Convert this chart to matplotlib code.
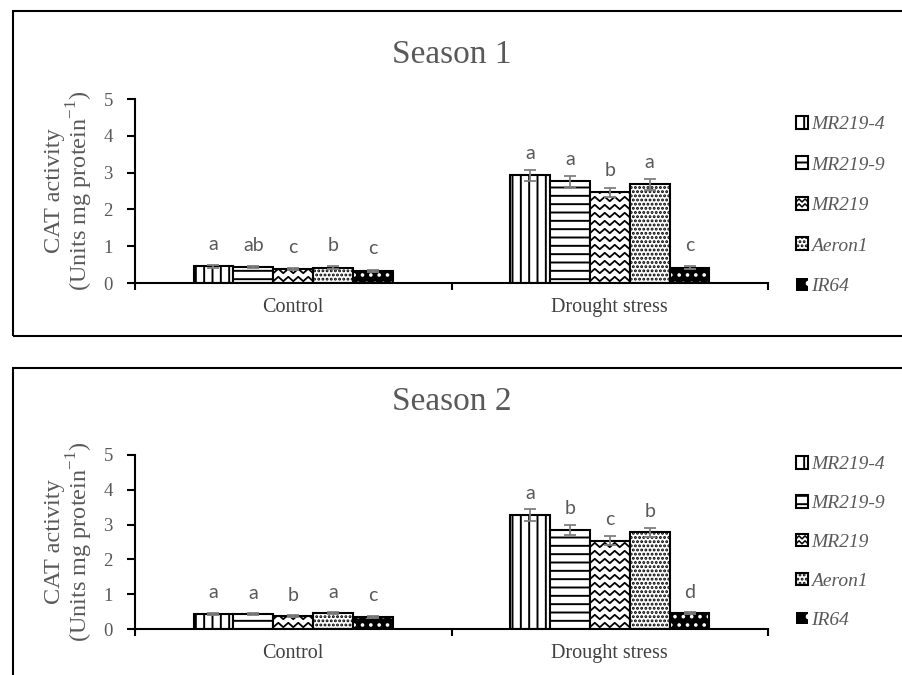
"""
Atividade de CAT em dois ciclos (Season 1 e Season 2), controle vs seca.
Barras com padrões em preto e branco, no estilo do Excel.
"""

import numpy as np
import matplotlib.pyplot as plt
from matplotlib.patches import Rectangle
from matplotlib.lines import Line2D
from matplotlib.legend_handler import HandlerBase

plt.rcParams['font.family'] = 'Liberation Serif'
plt.rcParams['mathtext.fontset'] = 'custom'
plt.rcParams['mathtext.rm'] = 'Liberation Serif'
plt.rcParams['hatch.linewidth'] = 1.4

# Dados
cultivares = ['MR219-4', 'MR219-9', 'MR219', 'Aeron1', 'IR64']
tratamentos = ['Control', 'Drought stress']

s1_medias = [[0.45, 2.93], [0.43, 2.76], [0.37, 2.46], [0.42, 2.68], [0.33, 0.42]]
s1_erros = [[0.03, 0.15], [0.03, 0.14], [0.03, 0.12], [0.03, 0.14], [0.02, 0.03]]
s1_letras = [['a', 'a'], ['ab', 'a'], ['c', 'b'], ['b', 'a'], ['c', 'c']]

s2_medias = [[0.44, 3.28], [0.43, 2.85], [0.37, 2.54], [0.45, 2.78], [0.35, 0.45]]
s2_erros = [[0.03, 0.17], [0.03, 0.14], [0.03, 0.12], [0.03, 0.13], [0.02, 0.03]]
s2_letras = [['a', 'a'], ['a', 'b'], ['b', 'c'], ['a', 'b'], ['c', 'd']]

CINZA = '#595959'
LARG = 0.126
hachuras = ['||', '--', None, '....', '..']


def zigue_zague(ax, x0, y0, w, h, dy, amp, clip):
    # linhas onduladas que imitam o padrão "wave" do Excel
    xs = x0 + np.arange(9) * w / 8
    for y in np.arange(y0 + dy / 2, y0 + h + dy, dy):
        ys = y + amp * np.where(np.arange(9) % 2 == 0, -1, 1)
        ln = Line2D(xs, ys, color='black', lw=1.3)
        ax.add_line(ln)
        # o recorte só depois do add_line, senão o eixo sobrescreve
        ln.set_clip_path(clip)


class HandlerOnda(HandlerBase):
    def create_artists(self, legend, orig, xd, yd, w, h, fontsize, trans):
        r = Rectangle((-xd, -yd), w, h, facecolor='white', edgecolor='black',
                      lw=1.5, transform=trans)
        xs = -xd + np.linspace(0, w, 5)
        arts = [r]
        for fy in (0.33, 0.72):
            ys = -yd + h * fy + h * 0.12 * np.where(np.arange(5) % 2 == 0, -1, 1)
            arts.append(Line2D(xs, ys, color='black', lw=1.1, transform=trans))
        return arts


fig = plt.figure(figsize=(9.03, 6.75), dpi=100)

# molduras dos dois painéis
fig.patches.append(Rectangle((13 / 903, 1 - 336 / 675), 1.0, 325 / 675,
                             transform=fig.transFigure, fill=False, lw=1.5,
                             edgecolor='black'))
fig.patches.append(Rectangle((13 / 903, -0.1), 1.0, 1 - 368 / 675 + 0.1,
                             transform=fig.transFigure, fill=False, lw=1.5,
                             edgecolor='black'))

paineis = [
    ('Season 1', s1_medias, s1_erros, s1_letras, [135 / 903, 1 - 283 / 675, 633 / 903, 184 / 675], 1 - 55 / 675, 1 - 116 / 675, 1.2),
    ('Season 2', s2_medias, s2_erros, s2_letras, [135 / 903, 1 - 629 / 675, 633 / 903, 174 / 675], 1 - 402 / 675, 1 - 456 / 675, 1.12),
]

x = np.arange(len(tratamentos))
for titulo, medias, erros, letras, pos, y_tit, y_leg, esp in paineis:
    ax = fig.add_axes(pos)
    ax.set_xlim(-0.5, 1.5)
    ax.set_ylim(0, 5)
    alt_px = pos[3] * 675
    dpy = 5 / alt_px

    handles = []
    for i, nome in enumerate(cultivares):
        xi = x + (i - 2) * LARG
        if nome == 'IR64':
            ax.bar(xi, medias[i], LARG, facecolor='black', edgecolor='white',
                   hatch=hachuras[i], lw=0)
            barras = ax.bar(xi, medias[i], LARG, fill=False, edgecolor='black', lw=1.5)
            h = Rectangle((0, 0), 1, 1, facecolor='black', edgecolor='white',
                          hatch='.', lw=0)
        elif nome == 'MR219':
            barras = ax.bar(xi, medias[i], LARG, facecolor='white',
                            edgecolor='black', lw=1.5)
            for b in barras:
                zigue_zague(ax, b.get_x(), 0, b.get_width(), b.get_height(),
                            8 * dpy, 2.2 * dpy, b)
            h = Rectangle((0, 0), 1, 1, facecolor='white', edgecolor='black')
        else:
            barras = ax.bar(xi, medias[i], LARG, facecolor='white',
                            edgecolor='black', hatch=hachuras[i], lw=1.5)
            h = Rectangle((0, 0), 1, 1, facecolor='white', edgecolor='black',
                          hatch=hachuras[i], lw=1.5)
        handles.append(h)
        ax.errorbar(xi, medias[i], yerr=erros[i], fmt='none', ecolor='#7f7f7f',
                    elinewidth=1.3, capsize=4, capthick=1.3, zorder=5)
        for xx, m, e, l in zip(xi, medias[i], erros[i], letras[i]):
            ax.text(xx, m + max(e, 0.15) + 0.45, l, ha='center', va='center',
                    fontfamily='Lato', fontsize=14, color=CINZA)

    for s in ['top', 'right']:
        ax.spines[s].set_visible(False)
    ax.spines['left'].set_linewidth(1.5)
    ax.spines['bottom'].set_linewidth(1.5)
    ax.set_xticks([-0.5, 0.5, 1.5])
    ax.set_xticklabels([])
    ax.tick_params(axis='x', direction='out', length=5, width=1.5)
    ax.set_xticks(x, minor=True)
    ax.set_xticklabels(tratamentos, minor=True, fontsize=14.5, color='#404040')
    ax.tick_params(axis='x', which='minor', length=0, pad=11)
    ax.set_yticks(range(6))
    ax.tick_params(axis='y', direction='out', length=6, width=1.5,
                   labelsize=13.5, labelcolor=CINZA, pad=10)
    ax.set_ylabel('CAT activity\n(Units mg protein$^{-1}$)', fontsize=17.5,
                  color=CINZA, linespacing=1.0, labelpad=6)

    fig.text(0.5, y_tit, titulo, ha='center', va='center', fontsize=24, color=CINZA)

    hmap = {handles[2]: HandlerOnda()}
    ax.legend(handles, cultivares, loc='upper left',
              bbox_to_anchor=(796 / 903, y_leg), bbox_transform=fig.transFigure,
              frameon=False, handlelength=0.62, handleheight=0.62, handletextpad=0.15,
              labelspacing=esp, borderpad=0, borderaxespad=0,
              prop={'style': 'italic', 'size': 14}, labelcolor=CINZA,
              handler_map=hmap)

fig.savefig('out.png', dpi=100)
